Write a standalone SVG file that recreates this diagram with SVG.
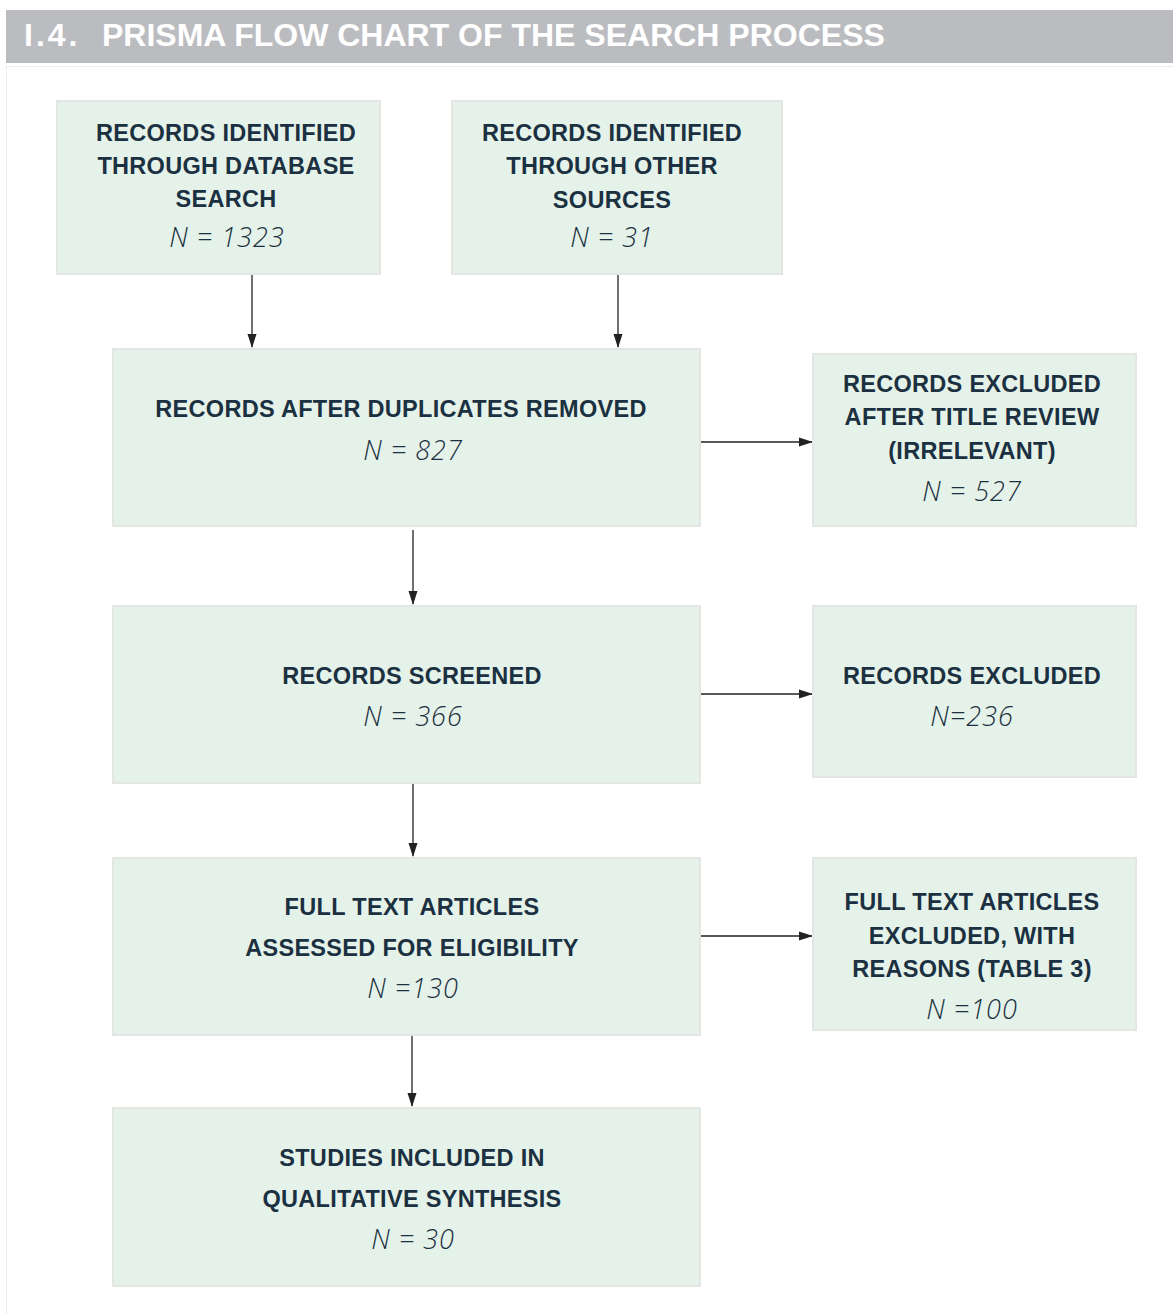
<svg xmlns="http://www.w3.org/2000/svg" width="1173" height="1314" viewBox="0 0 1173 1314">
<style>
.box{fill:#e5f2ea;stroke:#e4e6e4;stroke-width:2}
.h{font-family:"Liberation Sans",Arial,sans-serif;font-weight:bold;font-size:23.5px;letter-spacing:0.3px;fill:#1b3040;text-anchor:middle}
.n{font-family:"Open Sans","Liberation Sans",sans-serif;font-style:italic;font-weight:300;font-size:27px;letter-spacing:1px;fill:#1b3040;text-anchor:middle}
.c{stroke:#222;stroke-width:1.3;fill:none;marker-end:url(#ah)}
.t{font-family:"Liberation Sans",Arial,sans-serif;font-weight:bold;font-size:32px;fill:#fff}
</style>
<defs>
<marker id="ah" markerWidth="14" markerHeight="10" refX="13" refY="5" orient="auto" markerUnits="userSpaceOnUse">
<path d="M0,0.5 L14,5 L0,9.5 Z" fill="#222"/>
</marker>
</defs>
<rect x="0" y="0" width="1173" height="1314" fill="#fff"/>
<rect x="6" y="10" width="1167" height="53" fill="#bbbcc0"/>
<rect x="6.5" y="66.5" width="1170" height="1250" fill="#fff" stroke="#ececec" stroke-width="1"/>
<text class="t" x="24" y="46" letter-spacing="3">I.4.</text>
<text class="t" x="102" y="46">PRISMA FLOW CHART OF THE SEARCH PROCESS</text>

<g id="connectors">
<line class="c" x1="252" y1="275" x2="252" y2="347"/>
<line class="c" x1="618" y1="275" x2="618" y2="347"/>
<line class="c" x1="413" y1="530" x2="413" y2="604"/>
<line class="c" x1="413" y1="784" x2="413" y2="856"/>
<line class="c" x1="412" y1="1032" x2="412" y2="1106"/>
<line class="c" x1="701" y1="442" x2="812" y2="442"/>
<line class="c" x1="699" y1="694" x2="812" y2="694"/>
<line class="c" x1="701" y1="936" x2="812" y2="936"/>
</g>

<g id="db">
<rect class="box" x="57" y="101" width="323" height="173"/>
<text class="h" x="226" y="141">RECORDS IDENTIFIED</text>
<text class="h" x="226" y="174">THROUGH DATABASE</text>
<text class="h" x="226" y="207">SEARCH</text>
<text class="n" x="227" y="247">N = 1323</text>
</g>
<g id="other">
<rect class="box" x="452" y="101" width="330" height="173"/>
<text class="h" x="612" y="141">RECORDS IDENTIFIED</text>
<text class="h" x="612" y="174">THROUGH OTHER</text>
<text class="h" x="612" y="208">SOURCES</text>
<text class="n" x="612" y="247">N = 31</text>
</g>
<g id="dup">
<rect class="box" x="113" y="349" width="587" height="177"/>
<text class="h" x="401" y="417">RECORDS AFTER DUPLICATES REMOVED</text>
<text class="n" x="413" y="460">N = 827</text>
</g>
<g id="excl-title">
<rect class="box" x="813" y="354" width="323" height="172"/>
<text class="h" x="972" y="392">RECORDS EXCLUDED</text>
<text class="h" x="972" y="425">AFTER TITLE REVIEW</text>
<text class="h" x="972" y="459">(IRRELEVANT)</text>
<text class="n" x="972" y="501">N = 527</text>
</g>
<g id="screened">
<rect class="box" x="113" y="606" width="587" height="177"/>
<text class="h" x="412" y="684">RECORDS SCREENED</text>
<text class="n" x="413" y="726">N = 366</text>
</g>
<g id="excluded">
<rect class="box" x="813" y="606" width="323" height="171"/>
<text class="h" x="972" y="684">RECORDS EXCLUDED</text>
<text class="n" x="972" y="726">N=236</text>
</g>
<g id="fulltext">
<rect class="box" x="113" y="858" width="587" height="177"/>
<text class="h" x="412" y="915">FULL TEXT ARTICLES</text>
<text class="h" x="412" y="956">ASSESSED FOR ELIGIBILITY</text>
<text class="n" x="413" y="998">N =130</text>
</g>
<g id="ft-excluded">
<rect class="box" x="813" y="858" width="323" height="172"/>
<text class="h" x="972" y="910">FULL TEXT ARTICLES</text>
<text class="h" x="972" y="944">EXCLUDED, WITH</text>
<text class="h" x="972" y="977">REASONS (TABLE 3)</text>
<text class="n" x="972" y="1019">N =100</text>
</g>
<g id="included">
<rect class="box" x="113" y="1108" width="587" height="178"/>
<text class="h" x="412" y="1166">STUDIES INCLUDED IN</text>
<text class="h" x="412" y="1207">QUALITATIVE SYNTHESIS</text>
<text class="n" x="413" y="1249">N = 30</text>
</g>
</svg>
